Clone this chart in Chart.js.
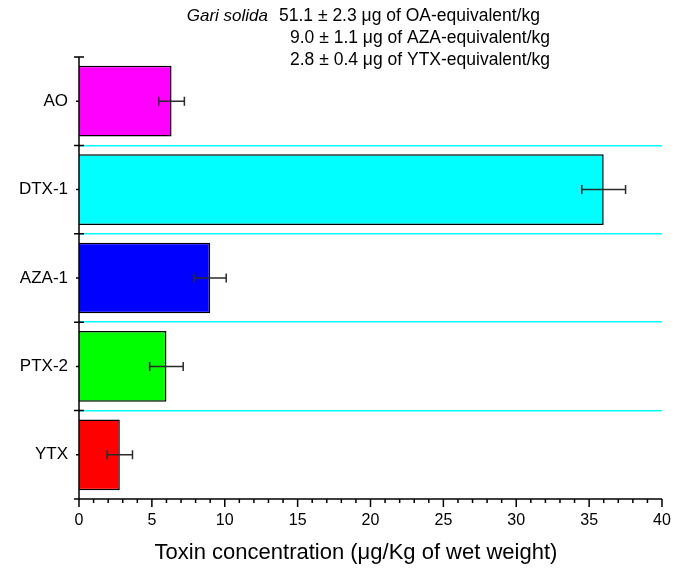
<!DOCTYPE html>
<html>
<head>
<meta charset="utf-8">
<script src="https://cdn.jsdelivr.net/npm/chart.js@4.4.1/dist/chart.umd.min.js"></script>
<style>
  html, body { margin: 0; padding: 0; background: #fff; }
  #contenedor { width: 679px; height: 571px; position: relative; }
</style>
</head>
<body>
<div id="contenedor"><canvas id="graficoToxinas"></canvas></div>
<script>
// Datos: concentración de toxinas (µg/Kg de peso húmedo)
const toxinas = ['AO', 'DTX-1', 'AZA-1', 'PTX-2', 'YTX'];
const concentraciones = [6.35, 36.0, 9.0, 6.0, 2.8];
const errores = [0.88, 1.5, 1.1, 1.15, 0.87];
const coloresBarras = ['#ff00ff', '#00ffff', '#0000ff', '#00ff00', '#ff0000'];

// Rango del eje X
const ejeXMin = 0;
const ejeXMax = 40;
const ejeXPaso = 5;
const tituloEjeX = 'Toxin concentration (μg/Kg of wet weight)';

// Texto de cabecera (equivalentes totales)
const especie = 'Gari solida';
const equivalentes = [
    '51.1 ± 2.3 μg of OA-equivalent/kg',
    '9.0 ± 1.1 μg of AZA-equivalent/kg',
    '2.8 ± 0.4 μg of YTX-equivalent/kg'
];

const FUENTE = '"Liberation Sans", Arial, sans-serif';

// Plugin: barras de error, ejes con marcas, título del eje y cabecera
const pluginEjes = {
    id: 'ejesToxinas',
    afterDatasetsDraw(chart) {
        const { ctx, chartArea: a, scales: { x, y } } = chart;
        ctx.save();

        // Barras de error horizontales
        ctx.strokeStyle = '#2b2b2b';
        ctx.lineWidth = 1.5;
        concentraciones.forEach((v, i) => {
            const yc = y.getPixelForValue(i);
            const x0 = x.getPixelForValue(v - errores[i]);
            const x1 = x.getPixelForValue(v + errores[i]);
            ctx.beginPath();
            ctx.moveTo(x0, yc); ctx.lineTo(x1, yc);
            ctx.moveTo(x0, yc - 4.5); ctx.lineTo(x0, yc + 4.5);
            ctx.moveTo(x1, yc - 4.5); ctx.lineTo(x1, yc + 4.5);
            ctx.stroke();
        });

        // Ejes
        ctx.strokeStyle = '#000';
        ctx.lineWidth = 1.5;
        ctx.beginPath();
        ctx.moveTo(a.left, a.top); ctx.lineTo(a.left, a.bottom);
        ctx.moveTo(a.left, a.bottom); ctx.lineTo(a.right, a.bottom);

        // Marcas del eje Y: límites de categoría (cruzadas) y centros (cortas)
        for (let i = 0; i <= toxinas.length; i++) {
            const yb = y.getPixelForValue(i - 0.5);
            ctx.moveTo(a.left - 5, yb); ctx.lineTo(a.left + 5, yb);
        }
        toxinas.forEach((t, i) => {
            const yc = y.getPixelForValue(i);
            ctx.moveTo(a.left - 3, yc); ctx.lineTo(a.left, yc);
        });

        // Marcas del eje X: mayores cada 5, menores cada 1
        for (let v = ejeXMin; v <= ejeXMax; v++) {
            const xp = x.getPixelForValue(v);
            const largo = v % ejeXPaso === 0 ? 8 : 4;
            ctx.moveTo(xp, a.bottom); ctx.lineTo(xp, a.bottom + largo);
        }
        ctx.stroke();

        ctx.fillStyle = '#000';
        ctx.textBaseline = 'middle';

        // Título del eje X (algo desplazado a la izquierda del centro)
        ctx.textAlign = 'center';
        ctx.font = '22px ' + FUENTE;
        ctx.fillText(tituloEjeX, 356, 553);

        // Cabecera
        ctx.font = 'italic 17px ' + FUENTE;
        ctx.textAlign = 'right';
        ctx.fillText(especie, 268, 16);
        ctx.textAlign = 'left';
        ctx.font = '17.5px ' + FUENTE;
        ctx.fillText(equivalentes[0], 279, 16);
        ctx.fillText(equivalentes[1], 290, 38);
        ctx.fillText(equivalentes[2], 290, 60);

        ctx.restore();
    }
};

new Chart(document.getElementById('graficoToxinas'), {
    type: 'bar',
    data: {
        labels: toxinas,
        datasets: [{
            data: concentraciones,
            backgroundColor: coloresBarras,
            borderColor: '#000',
            borderWidth: 1.5,
            barPercentage: 0.8,
            categoryPercentage: 1.0
        }]
    },
    options: {
        indexAxis: 'y',
        responsive: true,
        maintainAspectRatio: false,
        animation: false,
        layout: { padding: { top: 57, right: 17, left: 0, bottom: 0 } },
        plugins: {
            legend: { display: false },
            tooltip: { enabled: false }
        },
        scales: {
            x: {
                min: ejeXMin,
                max: ejeXMax,
                grid: { display: false, drawTicks: false },
                border: { display: false },
                ticks: {
                    stepSize: ejeXPaso,
                    color: '#000',
                    padding: 12,
                    maxRotation: 0,
                    font: { family: FUENTE, size: 16 }
                },
                afterFit: s => { s.height = 72; s.paddingLeft = 0; s.paddingRight = 0; }
            },
            y: {
                grid: {
                    offset: true,
                    drawTicks: false,
                    lineWidth: 1.5,
                    color: c => (c.index >= 1 && c.index < toxinas.length) ? '#00ffff' : 'rgba(0,0,0,0)'
                },
                border: { display: false },
                ticks: {
                    color: '#000',
                    padding: 11,
                    font: { family: FUENTE, size: 17 }
                },
                afterFit: s => { s.width = 79; }
            }
        }
    },
    plugins: [pluginEjes]
});
</script>
</body>
</html>
